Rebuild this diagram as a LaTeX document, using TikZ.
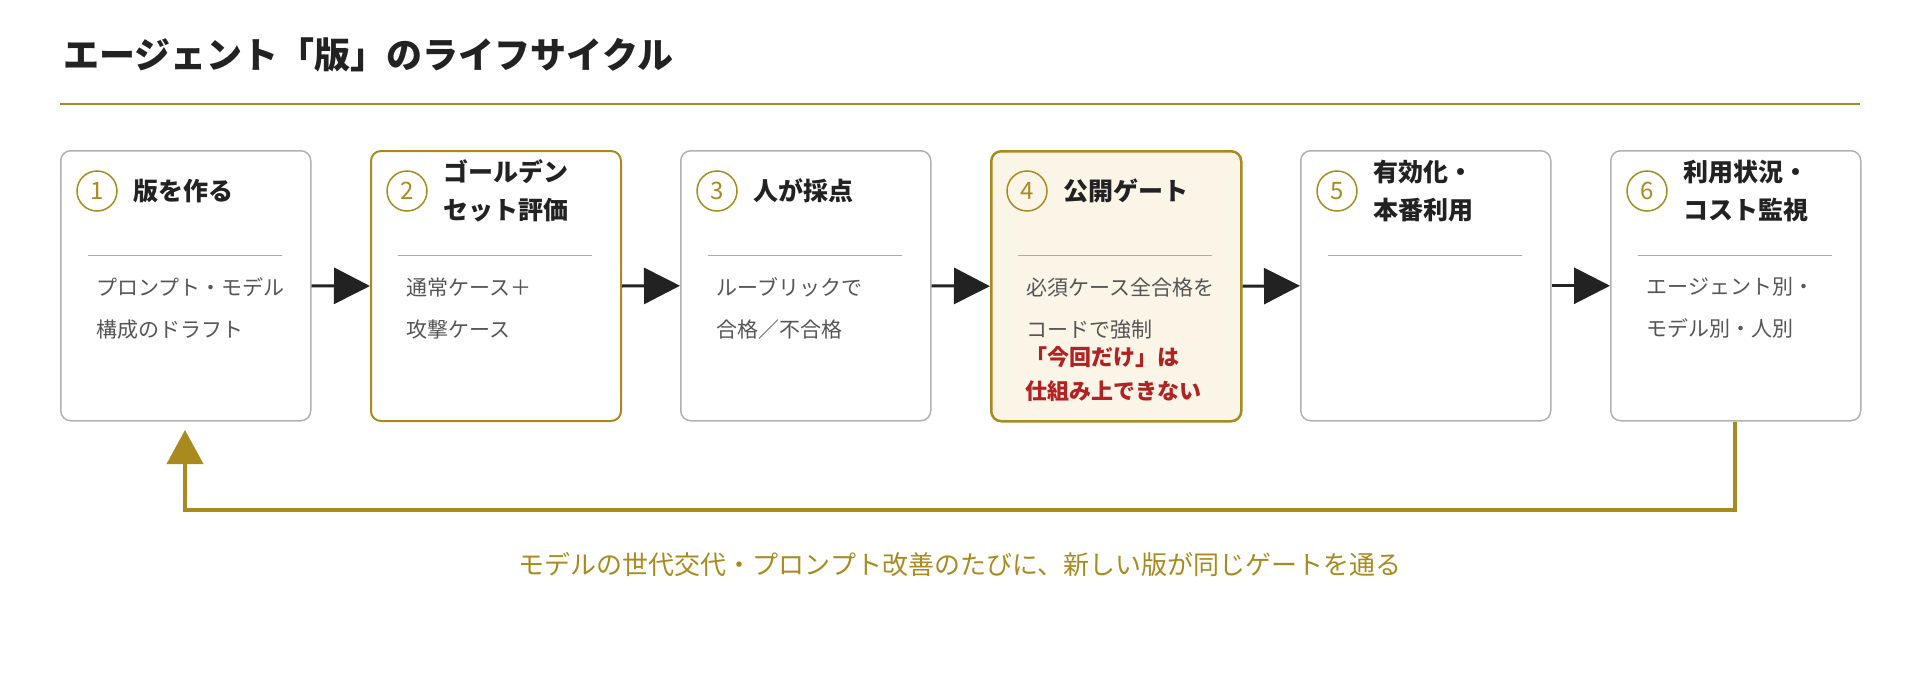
\documentclass[tikz,border=0pt]{standalone}
\usepackage{fontspec}
\setmainfont{Noto Sans CJK JP}
\usetikzlibrary{arrows.meta}
\definecolor{gold}{HTML}{A88A1E}
\definecolor{ink}{HTML}{222222}
\definecolor{body}{HTML}{555555}
\definecolor{cream}{HTML}{FBF5E8}
\definecolor{redt}{HTML}{B22222}
\begin{document}
\begin{tikzpicture}[x=1pt,y=-1pt,
 box/.style={draw=black!30,line width=1.5pt,rounded corners=10pt,minimum width=250pt,minimum height=270pt,anchor=north west,inner sep=0},
 num/.style={circle,draw=gold,line width=1.5pt,minimum size=40pt,inner sep=0,text=gold,font=\fontsize{24}{24}\selectfont},
 head/.style={anchor=west,align=left,text=ink,font=\fontsize{25}{38}\selectfont\bfseries},
 txt/.style={anchor=west,align=left,text=body,font=\fontsize{21}{42}\selectfont},
 flow/.style={draw=ink,line width=3pt,-{Triangle[length=36pt,width=36pt]}}]
\useasboundingbox (0,0) rectangle (1920,680);
\node[anchor=west,text=ink,font=\fontsize{36}{36}\selectfont\bfseries] (title) at (60,55) {エージェント「版」のライフサイクル};
\draw[gold,line width=2pt] (60,104) coordinate(l1) -- (1860,104) coordinate(l2);
\foreach \i/\h/\t [count=\k from 0] in {1/版を作る/{プロンプト・モデル\\構成のドラフト},2/{ゴールデン\\セット評価}/{通常ケース＋\\攻撃ケース},3/人が採点/{ルーブリックで\\合格／不合格},4/公開ゲート/{必須ケース全合格を\\コードで強制},5/{有効化・\\本番利用}/{},6/{利用状況・\\コスト監視}/{エージェント別・\\モデル別・人別}}{
 \pgfmathsetmacro\X{60+310*\k}
 \ifnum\i=4
  \node[box,fill=cream,draw=gold,line width=2.5pt] (b\i) at (\X,150) {};
 \else\ifnum\i=2
  \node[box,draw=gold,line width=2pt] (b\i) at (\X,150) {};
 \else
  \node[box] (b\i) at (\X,150) {};
 \fi\fi
 \node[num] (n\i) at (\X+37,191) {\i};
 \node[head] (h\i) at (\X+70,191) {\h};
 \draw[gold!70,line width=1pt] (\X+28,255) -- (\X+222,255);
 \node[txt,anchor=north west] (t\i) at (\X+33,274) {\t};
}
\node[anchor=north west,align=left,text=redt,font=\fontsize{22}{34}\selectfont\bfseries] (red) at (1022,343) {「今回だけ」は\\仕組み上できない};
\foreach \a/\b in {1/2,2/3,3/4,4/5,5/6}{
 \draw[flow] (b\a.east) -- (b\b.west);
}
\coordinate (c1) at (1735,510);
\coordinate (c2) at (185,510);
\coordinate (c3) at (185,430);
\draw[gold,line width=4pt,-{Triangle[length=34pt,width=36pt]}] (b6.south -| c1) -- (c1) -- (c2) -- (c3);
\node[text=gold,font=\fontsize{26}{26}\selectfont] (cap) at (960,565) {モデルの世代交代・プロンプト改善のたびに、新しい版が同じゲートを通る};
\end{tikzpicture}
\end{document}
